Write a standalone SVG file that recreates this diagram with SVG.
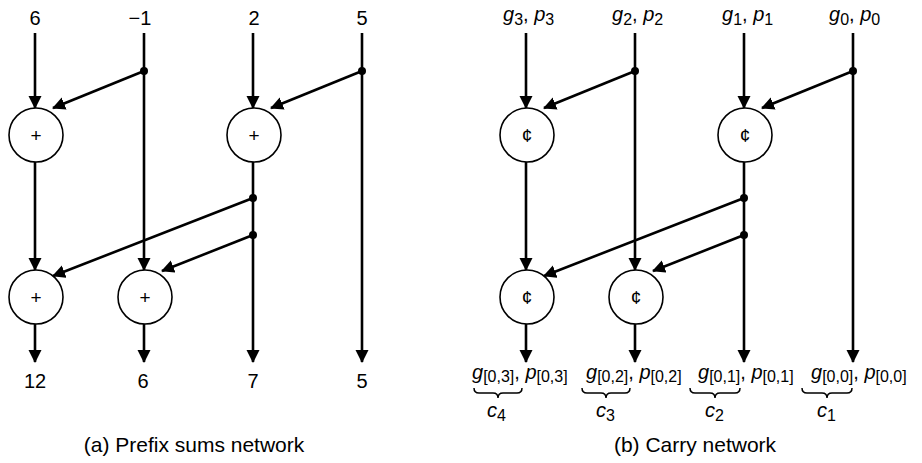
<svg xmlns="http://www.w3.org/2000/svg" width="922" height="463" viewBox="0 0 922 463">
<style>
.ln{stroke:#000;stroke-width:2.6;fill:none}
.ar{marker-end:url(#ah)}
.nd{fill:#fff;stroke:#000;stroke-width:1.6}
.dot{fill:#000}
.t{font-family:"Liberation Sans",Arial,sans-serif;fill:#000}
.num{font-size:20px;text-anchor:middle}
.op{font-size:19px;text-anchor:middle}
.lb{font-size:20px}
.sub{font-size:16px;font-style:normal}
.cap{font-size:21px;text-anchor:middle}
.br{stroke:#000;stroke-width:1.5;fill:none}
</style>
<defs>
<marker id="ah" markerUnits="userSpaceOnUse" markerWidth="14" markerHeight="14" refX="12" refY="6.5" orient="auto">
<path d="M0,0 L13,6.5 L0,13 z" fill="#000"/>
</marker>
</defs>
<rect width="922" height="463" fill="#fff"/>

<!-- Panel (a) -->
<g id="a-connectors">
<line class="ln ar" x1="35" y1="33" x2="35" y2="108"/>
<line class="ln ar" x1="35" y1="162" x2="35" y2="270"/>
<line class="ln ar" x1="35" y1="324" x2="35" y2="362"/>
<line class="ln ar" x1="144" y1="33" x2="144" y2="270"/>
<line class="ln ar" x1="144" y1="324" x2="144" y2="362"/>
<line class="ln ar" x1="253" y1="33" x2="253" y2="108"/>
<line class="ln ar" x1="253" y1="162" x2="253" y2="362"/>
<line class="ln ar" x1="362" y1="33" x2="362" y2="362"/>
<line class="ln ar" x1="144" y1="71" x2="53" y2="108"/>
<line class="ln ar" x1="362" y1="71" x2="271" y2="108"/>
<line class="ln ar" x1="253" y1="198" x2="53" y2="276"/>
<line class="ln ar" x1="253" y1="235" x2="162" y2="271"/>
<circle class="dot" cx="144" cy="71" r="4"/>
<circle class="dot" cx="362" cy="71" r="4"/>
<circle class="dot" cx="253" cy="198" r="4"/>
<circle class="dot" cx="253" cy="235" r="4"/>
</g>
<g id="a-n1"><circle class="nd" cx="36" cy="135" r="27"/><text class="t op" x="36" y="142">+</text></g>
<g id="a-n2"><circle class="nd" cx="254" cy="135" r="27"/><text class="t op" x="254" y="142">+</text></g>
<g id="a-n3"><circle class="nd" cx="36" cy="297" r="27"/><text class="t op" x="36" y="304">+</text></g>
<g id="a-n4"><circle class="nd" cx="145" cy="297" r="27"/><text class="t op" x="145" y="304">+</text></g>
<g id="a-labels">
<text class="t num" x="35" y="25">6</text>
<text class="t num" x="140" y="25">−1</text>
<text class="t num" x="254" y="25">2</text>
<text class="t num" x="362" y="25">5</text>
<text class="t num" x="35" y="388">12</text>
<text class="t num" x="143" y="388">6</text>
<text class="t num" x="253" y="388">7</text>
<text class="t num" x="362" y="388">5</text>
<text class="t cap" x="194" y="452">(a) Prefix sums network</text>
</g>

<!-- Panel (b) -->
<g id="b-connectors">
<line class="ln ar" x1="526" y1="33" x2="526" y2="108"/>
<line class="ln ar" x1="526" y1="162" x2="526" y2="270"/>
<line class="ln ar" x1="526" y1="324" x2="526" y2="362"/>
<line class="ln ar" x1="635" y1="33" x2="635" y2="270"/>
<line class="ln ar" x1="635" y1="324" x2="635" y2="362"/>
<line class="ln ar" x1="744" y1="33" x2="744" y2="108"/>
<line class="ln ar" x1="744" y1="162" x2="744" y2="362"/>
<line class="ln ar" x1="853" y1="33" x2="853" y2="362"/>
<line class="ln ar" x1="635" y1="71" x2="544" y2="108"/>
<line class="ln ar" x1="853" y1="71" x2="762" y2="108"/>
<line class="ln ar" x1="744" y1="198" x2="544" y2="276"/>
<line class="ln ar" x1="744" y1="235" x2="653" y2="271"/>
<circle class="dot" cx="635" cy="71" r="4"/>
<circle class="dot" cx="853" cy="71" r="4"/>
<circle class="dot" cx="744" cy="198" r="4"/>
<circle class="dot" cx="744" cy="235" r="4"/>
</g>
<g id="b-n1"><circle class="nd" cx="527" cy="135" r="27"/><text class="t op" x="527" y="142">¢</text></g>
<g id="b-n2"><circle class="nd" cx="745" cy="135" r="27"/><text class="t op" x="745" y="142">¢</text></g>
<g id="b-n3"><circle class="nd" cx="527" cy="297" r="27"/><text class="t op" x="527" y="304">¢</text></g>
<g id="b-n4"><circle class="nd" cx="636" cy="297" r="27"/><text class="t op" x="636" y="304">¢</text></g>
<g id="b-labels">
<text class="t lb" x="503" y="21"><tspan font-style="italic">g</tspan><tspan class="sub" dy="4">3</tspan><tspan dy="-4">, </tspan><tspan font-style="italic">p</tspan><tspan class="sub" dy="4">3</tspan></text>
<text class="t lb" x="612" y="21"><tspan font-style="italic">g</tspan><tspan class="sub" dy="4">2</tspan><tspan dy="-4">, </tspan><tspan font-style="italic">p</tspan><tspan class="sub" dy="4">2</tspan></text>
<text class="t lb" x="722" y="21"><tspan font-style="italic">g</tspan><tspan class="sub" dy="4">1</tspan><tspan dy="-4">, </tspan><tspan font-style="italic">p</tspan><tspan class="sub" dy="4">1</tspan></text>
<text class="t lb" x="829" y="21"><tspan font-style="italic">g</tspan><tspan class="sub" dy="4">0</tspan><tspan dy="-4">, </tspan><tspan font-style="italic">p</tspan><tspan class="sub" dy="4">0</tspan></text>

<text class="t lb" x="472" y="379"><tspan font-style="italic">g</tspan><tspan class="sub" dy="3">[0,3]</tspan><tspan dy="-3">, </tspan><tspan font-style="italic">p</tspan><tspan class="sub" dy="3">[0,3]</tspan></text>
<text class="t lb" x="586" y="379"><tspan font-style="italic">g</tspan><tspan class="sub" dy="3">[0,2]</tspan><tspan dy="-3">, </tspan><tspan font-style="italic">p</tspan><tspan class="sub" dy="3">[0,2]</tspan></text>
<text class="t lb" x="698" y="379"><tspan font-style="italic">g</tspan><tspan class="sub" dy="3">[0,1]</tspan><tspan dy="-3">, </tspan><tspan font-style="italic">p</tspan><tspan class="sub" dy="3">[0,1]</tspan></text>
<text class="t lb" x="811" y="379"><tspan font-style="italic">g</tspan><tspan class="sub" dy="3">[0,0]</tspan><tspan dy="-3">, </tspan><tspan font-style="italic">p</tspan><tspan class="sub" dy="3">[0,0]</tspan></text>

<path class="br" d="M474,388 Q474,393 479,393 L493,393 Q498,393 498,398 Q498,393 503,393 L517,393 Q522,393 522,388"/>
<path class="br" d="M582,388 Q582,393 587,393 L601,393 Q606,393 606,398 Q606,393 611,393 L625,393 Q630,393 630,388"/>
<path class="br" d="M690,388 Q690,393 695,393 L710,393 Q715,393 715,398 Q715,393 720,393 L735,393 Q740,393 740,388"/>
<path class="br" d="M802,388 Q802,393 807,393 L822,393 Q827,393 827,398 Q827,393 832,393 L847,393 Q852,393 852,388"/>

<text class="t lb" x="487" y="417"><tspan font-style="italic">c</tspan><tspan class="sub" dy="4">4</tspan></text>
<text class="t lb" x="596" y="417"><tspan font-style="italic">c</tspan><tspan class="sub" dy="4">3</tspan></text>
<text class="t lb" x="705" y="417"><tspan font-style="italic">c</tspan><tspan class="sub" dy="4">2</tspan></text>
<text class="t lb" x="817" y="417"><tspan font-style="italic">c</tspan><tspan class="sub" dy="4">1</tspan></text>
<text class="t cap" x="695" y="452">(b) Carry network</text>
</g>
</svg>
